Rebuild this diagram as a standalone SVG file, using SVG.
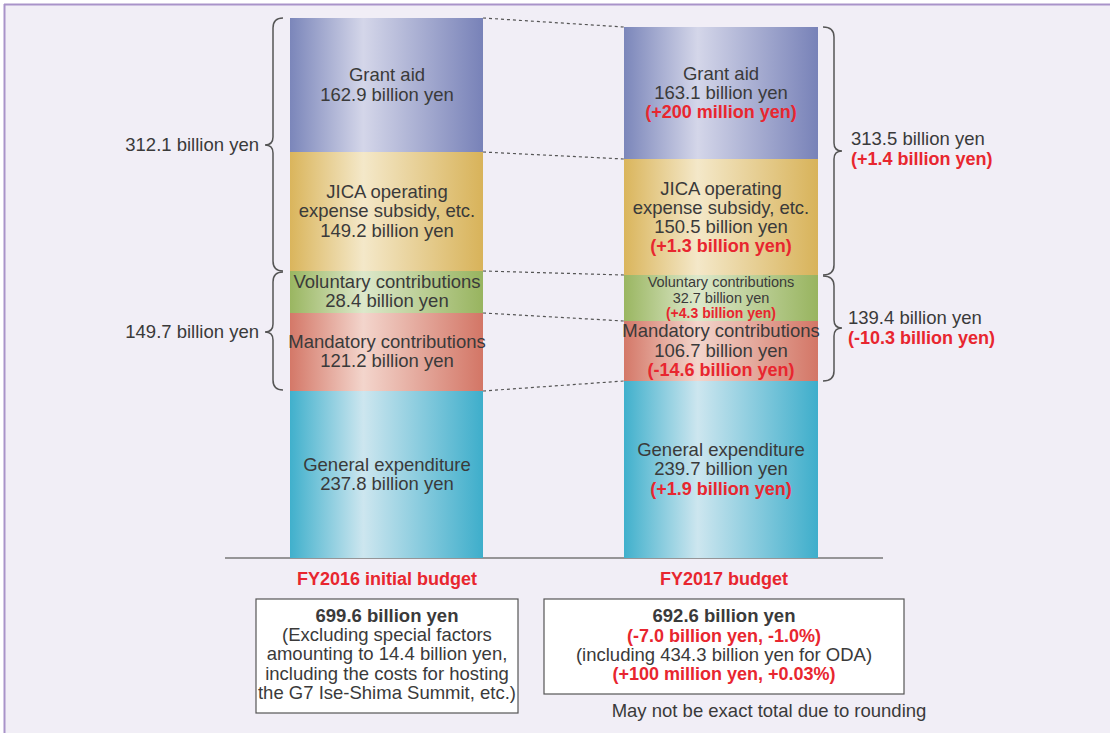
<svg xmlns="http://www.w3.org/2000/svg" width="1110" height="733" viewBox="0 0 1110 733">
<defs>
<linearGradient id="gGrant" x1="0" y1="0" x2="1" y2="0"><stop offset="0" stop-color="#7b86ba"/><stop offset="0.38" stop-color="#d4d6e9"/><stop offset="1" stop-color="#7882b8"/></linearGradient>
<linearGradient id="gJica" x1="0" y1="0" x2="1" y2="0"><stop offset="0" stop-color="#dab55c"/><stop offset="0.38" stop-color="#f4e8c9"/><stop offset="1" stop-color="#d8b35a"/></linearGradient>
<linearGradient id="gVol" x1="0" y1="0" x2="1" y2="0"><stop offset="0" stop-color="#9ab661"/><stop offset="0.38" stop-color="#dde8cb"/><stop offset="1" stop-color="#98b45f"/></linearGradient>
<linearGradient id="gMan" x1="0" y1="0" x2="1" y2="0"><stop offset="0" stop-color="#d47868"/><stop offset="0.38" stop-color="#f3d5cc"/><stop offset="1" stop-color="#d37666"/></linearGradient>
<linearGradient id="gGen" x1="0" y1="0" x2="1" y2="0"><stop offset="0" stop-color="#40b0cc"/><stop offset="0.38" stop-color="#cde6ef"/><stop offset="1" stop-color="#3eaecb"/></linearGradient>
<style>
text{font-family:"Liberation Sans","DejaVu Sans",sans-serif;font-size:18.5px;fill:#3a3a3a;text-anchor:middle}
.sm{font-size:14.5px}
.red{fill:#e8262f;font-weight:bold;font-size:18px}
.sm.red{font-size:14px}
.b{font-weight:bold}
.lab{text-anchor:end}
.st{text-anchor:start}
.dash{stroke:#555;stroke-width:1.2;stroke-dasharray:3,3;fill:none}
.brace{stroke:#555;stroke-width:1.5;fill:none}
.box{fill:#fff;stroke:#555;stroke-width:1.2}
</style>
</defs>
<rect x="0" y="0" width="1110" height="733" fill="#ffffff"/>
<rect x="4" y="4" width="1110" height="733" fill="#f1eef6"/>
<line x1="4" y1="4.5" x2="1110" y2="4.5" stroke="#a993c9" stroke-width="2"/>
<line x1="4.5" y1="4" x2="4.5" y2="733" stroke="#a993c9" stroke-width="2"/>

<g id="connectors">
<line class="dash" x1="483" y1="18" x2="624" y2="27"/>
<line class="dash" x1="483" y1="152" x2="624" y2="159"/>
<line class="dash" x1="483" y1="271" x2="624" y2="275"/>
<line class="dash" x1="483" y1="313" x2="624" y2="321"/>
<line class="dash" x1="483" y1="391" x2="624" y2="381"/>
<line x1="225" y1="558" x2="883" y2="558" stroke="#777" stroke-width="1.5"/>
<path class="brace" d="M283,18 Q273,18 273,28 L273,137 Q273,145 265,145 Q273,145 273,153 L273,261 Q273,271 283,271"/>
<path class="brace" d="M283,272 Q273,272 273,282 L273,324 Q273,332 265,332 Q273,332 273,340 L273,380 Q273,390 283,390"/>
<path class="brace" d="M823,27 Q834,27 834,37 L834,143 Q834,151 842,151 Q834,151 834,159 L834,265 Q834,275 823,275"/>
<path class="brace" d="M823,276 Q834,276 834,286 L834,320 Q834,328 842,328 Q834,328 834,336 L834,371 Q834,381 823,381"/>
</g>

<g id="left-grant"><rect x="290" y="18" width="193" height="134" fill="url(#gGrant)"/>
<text x="387" y="81">Grant aid</text><text x="387" y="101">162.9 billion yen</text></g>
<g id="left-jica"><rect x="290" y="152" width="193" height="119" fill="url(#gJica)"/>
<text x="387" y="198">JICA operating</text><text x="387" y="217">expense subsidy, etc.</text><text x="387" y="237">149.2 billion yen</text></g>
<g id="left-vol"><rect x="290" y="271" width="193" height="42" fill="url(#gVol)"/>
<text x="387" y="288">Voluntary contributions</text><text x="387" y="307">28.4 billion yen</text></g>
<g id="left-man"><rect x="290" y="313" width="193" height="78" fill="url(#gMan)"/>
<text x="387" y="348">Mandatory contributions</text><text x="387" y="367">121.2 billion yen</text></g>
<g id="left-gen"><rect x="290" y="391" width="193" height="167" fill="url(#gGen)"/>
<text x="387" y="471">General expenditure</text><text x="387" y="490">237.8 billion yen</text></g>

<g id="right-grant"><rect x="624" y="27" width="194" height="132" fill="url(#gGrant)"/>
<text x="721" y="80">Grant aid</text><text x="721" y="99">163.1 billion yen</text><text class="red" x="721" y="118">(+200 million yen)</text></g>
<g id="right-jica"><rect x="624" y="159" width="194" height="116" fill="url(#gJica)"/>
<text x="721" y="195">JICA operating</text><text x="721" y="214">expense subsidy, etc.</text><text x="721" y="233">150.5 billion yen</text><text class="red" x="721" y="252">(+1.3 billion yen)</text></g>
<g id="right-vol"><rect x="624" y="275" width="194" height="46" fill="url(#gVol)"/>
<text class="sm" x="721" y="287">Voluntary contributions</text><text class="sm" x="721" y="303">32.7 billion yen</text><text class="sm red" x="721" y="318">(+4.3 billion yen)</text></g>
<g id="right-man"><rect x="624" y="321" width="194" height="60" fill="url(#gMan)"/>
<text x="721" y="337">Mandatory contributions</text><text x="721" y="357">106.7 billion yen</text><text class="red" x="721" y="376">(-14.6 billion yen)</text></g>
<g id="right-gen"><rect x="624" y="381" width="194" height="177" fill="url(#gGen)"/>
<text x="721" y="456">General expenditure</text><text x="721" y="475">239.7 billion yen</text><text class="red" x="721" y="495">(+1.9 billion yen)</text></g>

<g id="label-left-top"><text class="lab" x="259" y="151">312.1 billion yen</text></g>
<g id="label-left-bottom"><text class="lab" x="259" y="338">149.7 billion yen</text></g>
<g id="label-right-top"><text class="st" x="851" y="145">313.5 billion yen</text><text class="st red" x="851" y="165">(+1.4 billion yen)</text></g>
<g id="label-right-bottom"><text class="st" x="848" y="324">139.4 billion yen</text><text class="st red" x="848" y="344">(-10.3 billion yen)</text></g>

<g id="fy2016"><text class="red" x="387" y="585">FY2016 initial budget</text></g>
<g id="fy2017"><text class="red" x="724" y="585">FY2017 budget</text></g>

<g id="box-2016"><rect class="box" x="256" y="599" width="262" height="114"/>
<text class="b" x="387" y="622">699.6 billion yen</text>
<text x="387" y="641">(Excluding special factors</text>
<text x="387" y="660">amounting to 14.4 billion yen,</text>
<text x="387" y="680">including the costs for hosting</text>
<text x="387" y="699">the G7 Ise-Shima Summit, etc.)</text></g>
<g id="box-2017"><rect class="box" x="544" y="599" width="360" height="95"/>
<text class="b" x="724" y="622">692.6 billion yen</text>
<text class="red" x="724" y="642">(-7.0 billion yen, -1.0%)</text>
<text x="724" y="661">(including 434.3 billion yen for ODA)</text>
<text class="red" x="724" y="680">(+100 million yen, +0.03%)</text></g>
<g id="note"><text x="769" y="717">May not be exact total due to rounding</text></g>
</svg>
